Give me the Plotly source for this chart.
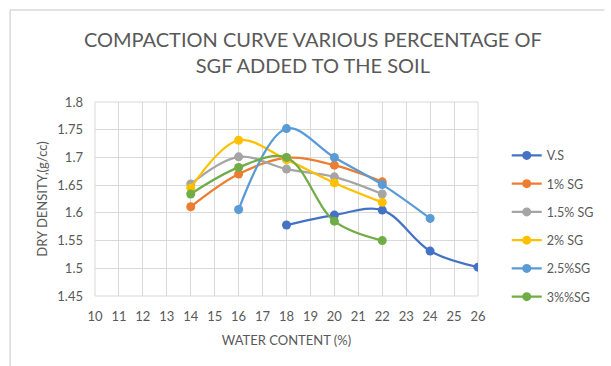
import plotly.graph_objects as go

# Water content (%) and dry density (g/cc) per mix
series_names = ["V.S", "1% SG", "1.5% SG", "2% SG", "2.5%SG", "3%%SG"]
series_colors = ["#4472C4", "#ED7D31", "#A5A5A5", "#FFC000", "#5B9BD5", "#70AD47"]

vs_x = [18, 20, 22, 24, 26]
vs_y = [1.578, 1.596, 1.605, 1.531, 1.502]

sg1_x = [14, 16, 18, 20, 22]
sg1_y = [1.611, 1.670, 1.699, 1.686, 1.656]

sg15_x = [14, 16, 18, 20, 22]
sg15_y = [1.652, 1.701, 1.679, 1.665, 1.634]

sg2_x = [14, 16, 18, 20, 22]
sg2_y = [1.645, 1.731, 1.696, 1.654, 1.619]

sg25_x = [16, 18, 20, 22, 24]
sg25_y = [1.606, 1.752, 1.700, 1.651, 1.590]

sg3_x = [14, 16, 18, 20, 22]
sg3_y = [1.634, 1.682, 1.700, 1.585, 1.550]

x_ticks = list(range(10, 27))
y_ticks = [1.45, 1.5, 1.55, 1.6, 1.65, 1.7, 1.75, 1.8]

xs = [vs_x, sg1_x, sg15_x, sg2_x, sg25_x, sg3_x]
ys = [vs_y, sg1_y, sg15_y, sg2_y, sg25_y, sg3_y]

FONT = "Lato, 'Open Sans', sans-serif"
TEXT = "#595959"
GRID = "#D9D9D9"

W, H = 611, 366
ML, MR, MT, MB = 95, 128, 102, 70
PW, PH = W - ML - MR, H - MT - MB

fig = go.Figure()
for name, color, x, y in zip(series_names, series_colors, xs, ys):
    fig.add_trace(go.Scatter(
        x=x, y=y, name=name, legendgroup=name,
        mode="lines+markers",
        line=dict(color=color, width=2.25, shape="spline", smoothing=1),
        marker=dict(color=color, size=9),
    ))

fig.update_layout(
    width=W, height=H,
    margin=dict(l=ML, r=MR, t=MT, b=MB),
    paper_bgcolor="white", plot_bgcolor="white",
    font=dict(family=FONT, color=TEXT, size=12),
    title=dict(
        text="COMPACTION CURVE VARIOUS PERCENTAGE OF<br>SGF ADDED TO THE SOIL",
        x=0.512, xanchor="center", y=0.872, yanchor="middle",
        font=dict(family=FONT, size=20, color=TEXT),
    ),
    showlegend=True,
    legend=dict(
        x=1.075, xanchor="left", y=0.80, yanchor="top",
        font=dict(family=FONT, size=12.5, color=TEXT),
        itemwidth=30, tracegroupgap=9,
        bgcolor="rgba(0,0,0,0)",
    ),
    xaxis=dict(
        range=[10, 26], tickvals=x_ticks, ticktext=[str(v) for v in x_ticks],
        showgrid=True, gridcolor=GRID, gridwidth=1,
        showline=False, zeroline=False, ticks="",
        ticklabelstandoff=11,
        tickfont=dict(size=13, color=TEXT),
        title=dict(text="WATER CONTENT (%)", font=dict(size=13, color=TEXT), standoff=12),
    ),
    yaxis=dict(
        range=[1.45, 1.8], tickvals=y_ticks, ticktext=[f"{v:g}" for v in y_ticks],
        showgrid=True, gridcolor=GRID, gridwidth=1,
        showline=False, zeroline=False, ticks="",
        ticklabelstandoff=11,
        tickfont=dict(size=13, color=TEXT),
        title=dict(text="DRY DENSITY,(g/cc)", font=dict(size=13, color=TEXT), standoff=6),
    ),
    shapes=[
        # outer chart frame (top and left edges)
        dict(type="line", xref="paper", yref="paper",
             x0=(9 - ML) / PW, x1=(W - ML) / PW,
             y0=(H - MB - 10) / PH, y1=(H - MB - 10) / PH,
             line=dict(color=GRID, width=1.5)),
        dict(type="line", xref="paper", yref="paper",
             x0=(9 - ML) / PW, x1=(9 - ML) / PW,
             y0=(H - MB - 10) / PH, y1=-MB / PH,
             line=dict(color=GRID, width=1.5)),
        # plot area edge
        dict(type="rect", xref="paper", yref="paper", x0=0, x1=1, y0=0, y1=1,
             line=dict(color=GRID, width=1), layer="below"),
    ],
)

fig.write_html("out.html")
